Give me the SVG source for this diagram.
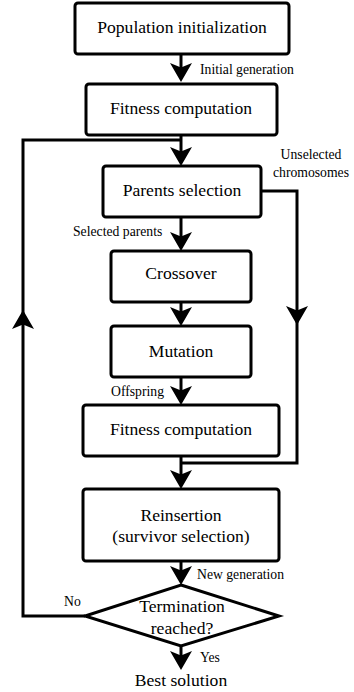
<svg xmlns="http://www.w3.org/2000/svg" width="354" height="692" viewBox="0 0 354 692">
<style>
.box{fill:#fff;stroke:#000;stroke-width:3}
.t{font-family:'Liberation Serif','Times New Roman',serif;font-size:17.6px;text-anchor:middle;fill:#000}
.s{font-family:'Liberation Serif','Times New Roman',serif;font-size:13.7px;fill:#000}
.c{fill:none;stroke:#000;stroke-width:3}
</style>
<defs>
<marker id="ah" markerUnits="userSpaceOnUse" markerWidth="19" markerHeight="23" viewBox="0 -11.5 19 23" refX="11" refY="0" orient="auto">
<path d="M0,-11 L19,0 L0,11 L4.5,0 Z" fill="#000"/>
</marker>
</defs>
<rect width="354" height="692" fill="#fff"/>
<g id="connectors">
<path class="c" d="M181,54 V74" marker-end="url(#ah)"/>
<path class="c" d="M181,135 V158" marker-end="url(#ah)"/>
<path class="c" d="M181,217 V243" marker-end="url(#ah)"/>
<path class="c" d="M181,302 V318" marker-end="url(#ah)"/>
<path class="c" d="M181,377 V397" marker-end="url(#ah)"/>
<path class="c" d="M181,456 V481" marker-end="url(#ah)"/>
<path class="c" d="M181,561 V577" marker-end="url(#ah)"/>
<path class="c" d="M181,646 V662" marker-end="url(#ah)"/>
<path class="c" d="M85,616 H23 V318" marker-end="url(#ah)"/>
<path class="c" d="M23,322 V140 H181"/>
<path class="c" d="M261,191 H297 V317" marker-end="url(#ah)"/>
<path class="c" d="M297,314 V463 H181"/>
<text class="s" x="200" y="74">Initial generation</text>
<text class="s" x="311" y="159" text-anchor="middle">Unselected</text>
<text class="s" x="311" y="177" text-anchor="middle">chromosomes</text>
<text class="s" x="73" y="236">Selected parents</text>
<text class="s" x="111" y="396">Offspring</text>
<text class="s" x="197" y="579">New generation</text>
<text class="s" x="64" y="606">No</text>
<text class="s" x="200" y="662">Yes</text>
</g>
<g id="init">
<rect class="box" x="75" y="3" width="214" height="51" rx="3"/>
<text class="t" x="182" y="33">Population initialization</text>
</g>
<g id="fitness1">
<rect class="box" x="86" y="84" width="191" height="51" rx="3"/>
<text class="t" x="181" y="114">Fitness computation</text>
</g>
<g id="parents">
<rect class="box" x="103" y="166" width="158" height="51" rx="3"/>
<text class="t" x="182" y="196">Parents selection</text>
</g>
<g id="crossover">
<rect class="box" x="111" y="251" width="140" height="51" rx="3"/>
<text class="t" x="181" y="279">Crossover</text>
</g>
<g id="mutation">
<rect class="box" x="111" y="326" width="140" height="51" rx="3"/>
<text class="t" x="181" y="357">Mutation</text>
</g>
<g id="fitness2">
<rect class="box" x="83" y="405" width="196" height="51" rx="3"/>
<text class="t" x="181" y="435">Fitness computation</text>
</g>
<g id="reinsertion">
<rect class="box" x="83" y="489" width="196" height="72" rx="3"/>
<text class="t" x="181" y="521">Reinsertion</text>
<text class="t" x="181" y="542">(survivor selection)</text>
</g>
<g id="termination">
<polygon class="box" points="181,585 279,616 181,646 85,616"/>
<text class="t" x="182" y="612">Termination</text>
<text class="t" x="182" y="634">reached?</text>
</g>
<g id="best">
<text class="t" x="181" y="686">Best solution</text>
</g>
</svg>
